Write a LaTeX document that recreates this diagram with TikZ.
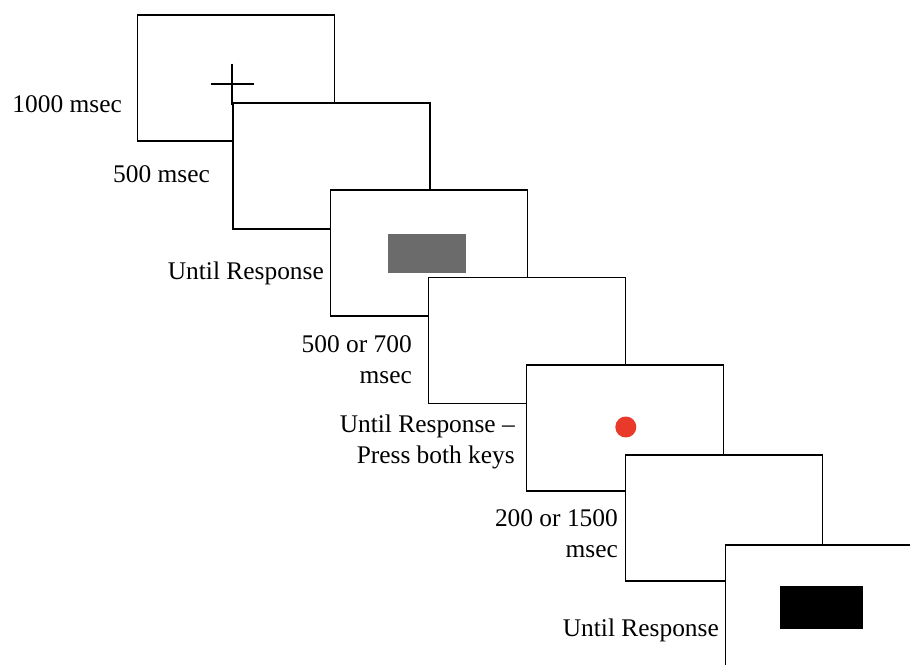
\documentclass[tikz,border=0pt]{standalone}
\usepackage{fontspec}
\setmainfont{Liberation Serif}
\usepackage{tikz}
\usetikzlibrary{positioning}
\definecolor{frameLine}{RGB}{0, 0, 0}
\definecolor{stimGray}{RGB}{107, 107, 107}
\definecolor{dotRed}{RGB}{232, 57, 42}
\tikzset{
    trial_frame/.style={
        rectangle,
        draw=frameLine,
        fill=white,
        line width=1.6pt,
        inner sep=0pt,
        outer sep=0pt,
        minimum width=197pt,
        minimum height=126pt
    },
    stim_box/.style={
        rectangle,
        draw=none,
        inner sep=0pt,
        outer sep=0pt
    },
    time_label/.style={
        anchor=base east,
        align=right,
        inner sep=0pt,
        text=black,
        font=\fontsize{25.4}{30.5}\selectfont
    }
}

\begin{document}
\begin{tikzpicture}[x=1pt, y=-1pt]
    \useasboundingbox (0,0) rectangle (910,664);

    % fixation
    \node[trial_frame] (f1) at (236,78) {};
    \coordinate (fix) at ([xshift=-4pt, yshift=-6pt]f1.center);
    \draw[line width=1.2pt] (fix) ++(-21.5,0) -- ++(43,0);
    \draw[line width=2.8pt] (fix) ++(0,-20.5) -- ++(0,41);

    % blank
    \node[trial_frame, below right=-38.2pt and -101.6pt of f1] (f2) {};

    % gray cue
    \node[trial_frame, below right=-38.6pt and -99.6pt of f2] (f3) {};
    \node[stim_box, fill=stimGray, minimum width=78pt, minimum height=39pt]
        (cue) at ([xshift=-2pt]f3.center) {};

    % blank
    \node[trial_frame, below right=-38.6pt and -99pt of f3] (f4) {};

    % red dot
    \node[trial_frame, below right=-38.6pt and -99pt of f4] (f5) {};
    \node[circle, fill=dotRed, inner sep=0pt, minimum size=21pt]
        (dot) at ([xshift=1pt, yshift=1pt]f5.center) {};

    % blank
    \node[trial_frame, below right=-36pt and -98pt of f5] (f6) {};

    % black target
    \node[trial_frame, below right=-36pt and -97pt of f6] (f7) {};
    \node[stim_box, fill=black, minimum width=83pt, minimum height=43pt]
        (target) at ([xshift=-2pt, yshift=1pt]f7.center) {};

    % durations
    \node[time_label] (t1) at (122,112) {1000 msec};
    \node[time_label] (t2) at (210,182) {500 msec};
    \node[time_label] (t3) at (324,279) {Until Response};
    \node[time_label] (t4) at (412,383) {500 or 700\\msec};
    \node[time_label] (t5) at (515,463) {Until Response --\\Press both keys};
    \node[time_label] (t6) at (618,557) {200 or 1500\\msec};
    \node[time_label] (t7) at (719,636) {Until Response};
\end{tikzpicture}
\end{document}
